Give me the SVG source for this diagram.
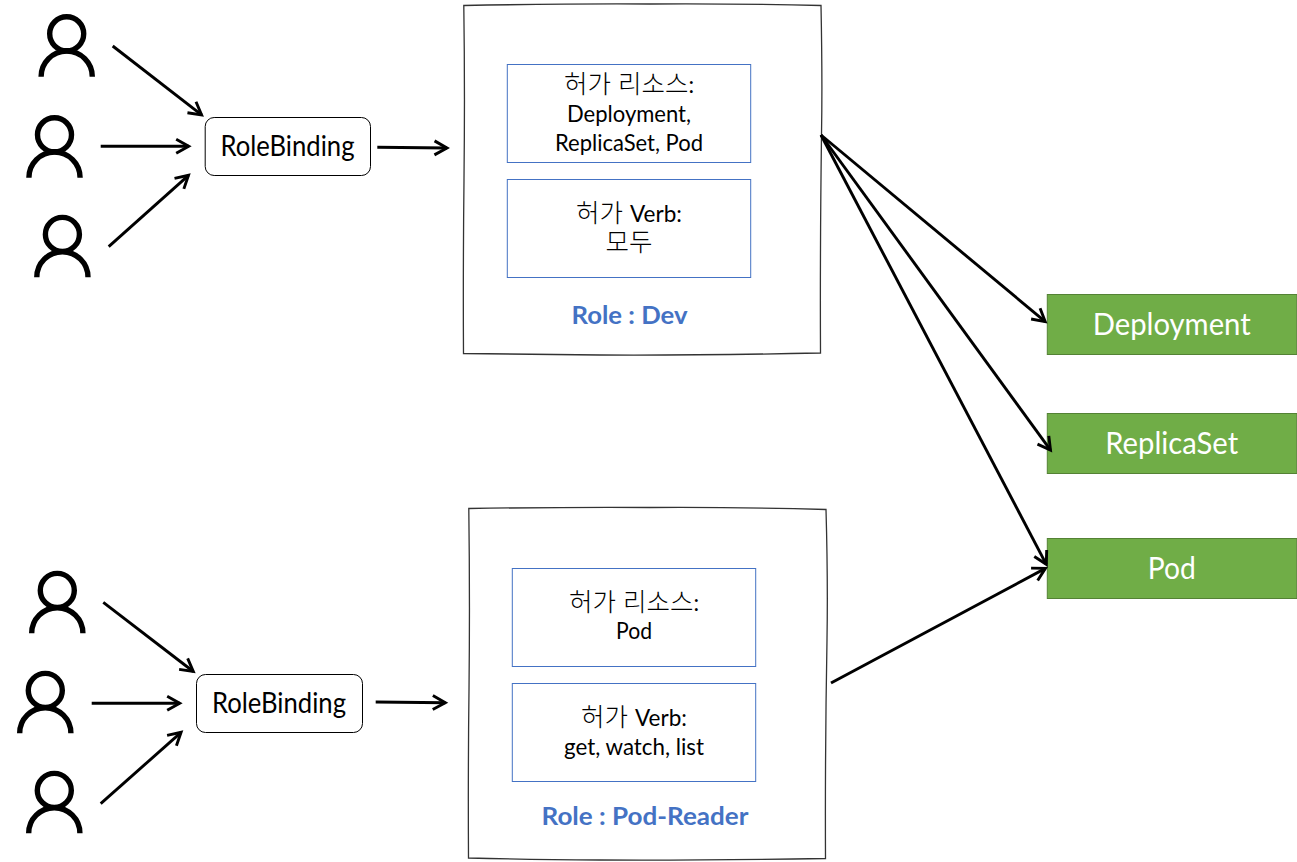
<svg xmlns="http://www.w3.org/2000/svg" width="1297" height="862" viewBox="0 0 1297 862">
<style>
text{font-family:Lato,"Noto Sans CJK KR",sans-serif;text-anchor:middle;fill:#000}
.k{font-size:25.5px;font-family:"Liberation Sans","Noto Sans CJK KR",sans-serif;font-weight:300}
.s{font-family:Lato,sans-serif;font-size:22.5px;font-weight:400}
.l{font-size:22.5px}
.rb{font-size:28px}
.role{font-size:25px;font-weight:700;fill:#4472c4}
.res{font-size:30px;fill:#fff}
.sk{fill:#fff;stroke:#333;stroke-width:1.3}
.in{fill:#fff;stroke:#4472c4;stroke-width:1}
.bind{fill:#fff;stroke:#000;stroke-width:1}
.g{fill:#70ad47;stroke:#548235;stroke-width:1}
.c line{stroke:#000;stroke-width:2.9;marker-end:url(#a)}
</style>
<defs>
<marker id="a" markerUnits="userSpaceOnUse" markerWidth="30" markerHeight="30" refX="24" refY="15" orient="auto" overflow="visible"><path d="M11.5 8 L24 15 L11.5 22" fill="none" stroke="#000" stroke-width="2.9"/></marker>
<g id="p" fill="none" stroke="#000" stroke-width="5.4"><circle cx="0" cy="0.8" r="17"/><path d="M-25.6 43.7 A25.6 25.6 0 0 1 25.6 43.7"/></g>
</defs>
<g id="users-top"><use href="#p" x="66.7" y="33"/><use href="#p" x="54.5" y="134"/><use href="#p" x="62.4" y="233.6"/></g>
<g id="users-bottom"><use href="#p" x="57.3" y="589.6"/><use href="#p" x="45.3" y="689.6"/><use href="#p" x="54.3" y="789.6"/></g>
<g id="binding-top"><rect class="bind" x="205.2" y="117.5" width="165.3" height="58" rx="9"/><text class="rb" x="287.5" y="156" textLength="134" lengthAdjust="spacingAndGlyphs">RoleBinding</text></g>
<g id="binding-bottom"><rect class="bind" x="196.5" y="674.5" width="166" height="58" rx="9"/><text class="rb" x="279" y="712.5" textLength="134" lengthAdjust="spacingAndGlyphs">RoleBinding</text></g>
<g id="role-dev">
<path class="sk" d="M463.8 5.5 Q570 3.5 650 4 Q740 3.5 821 5.5 Q822.5 80 821.5 135 Q820 250 820.5 353 Q700 355.5 600 355 Q530 354.5 463.5 353.5 Q463 270 464 180 Q465 90 463.8 5.5Z"/>
<rect class="in" x="507.3" y="64.5" width="243.4" height="98"/>
<rect class="in" x="507.3" y="179.5" width="243.4" height="98"/>
<text class="k" x="629" y="92.5">허가 리소스<tspan class="s">:</tspan></text>
<text class="l" x="629" y="121.5" textLength="124" lengthAdjust="spacingAndGlyphs">Deployment,</text>
<text class="l" x="629" y="151" textLength="148" lengthAdjust="spacingAndGlyphs">ReplicaSet, Pod</text>
<text class="k" x="629" y="222">허가 <tspan class="s">Verb:</tspan></text>
<text class="k" x="629" y="250.5">모두</text>
<text class="role" x="629.5" y="323.5" textLength="116" lengthAdjust="spacingAndGlyphs">Role : Dev</text>
</g>
<g id="role-pod-reader">
<path class="sk" d="M468.8 508.5 Q570 507 650 507.5 Q740 507 826 509.5 Q828 580 827 640 Q825 750 825.5 858.5 Q700 860.5 600 860 Q530 859.5 468.5 858 Q468 770 469 690 Q470 600 468.8 508.5Z"/>
<rect class="in" x="512.3" y="568.5" width="243.4" height="98"/>
<rect class="in" x="512.3" y="683.5" width="243.4" height="98"/>
<text class="k" x="634" y="610.5">허가 리소스<tspan class="s">:</tspan></text>
<text class="l" x="634" y="639" textLength="36" lengthAdjust="spacingAndGlyphs">Pod</text>
<text class="k" x="634" y="726">허가 <tspan class="s">Verb:</tspan></text>
<text class="l" x="634" y="755" textLength="140" lengthAdjust="spacingAndGlyphs">get, watch, list</text>
<text class="role" x="645" y="825" textLength="207" lengthAdjust="spacingAndGlyphs">Role : Pod-Reader</text>
</g>
<g id="res-deployment"><rect class="g" x="1047.3" y="294.5" width="249.5" height="60"/><text class="res" x="1171.7" y="335" textLength="158" lengthAdjust="spacingAndGlyphs">Deployment</text></g>
<g id="res-replicaset"><rect class="g" x="1047.3" y="413.5" width="249.5" height="60"/><text class="res" x="1171.7" y="454" textLength="133" lengthAdjust="spacingAndGlyphs">ReplicaSet</text></g>
<g id="res-pod"><rect class="g" x="1047.3" y="538.5" width="249.5" height="60"/><text class="res" x="1171.7" y="579" textLength="48" lengthAdjust="spacingAndGlyphs">Pod</text></g>
<g id="connectors" class="c">
<line x1="112.7" y1="46" x2="201.6" y2="114.9"/>
<line x1="100.7" y1="146.3" x2="188.7" y2="146.3"/>
<line x1="108.7" y1="246.7" x2="188.5" y2="175.3"/>
<line x1="377.3" y1="147.3" x2="447" y2="148"/>
<line x1="103.3" y1="602.3" x2="193.3" y2="671.5"/>
<line x1="91.7" y1="703.3" x2="179.7" y2="703.3"/>
<line x1="100.7" y1="803.7" x2="181.1" y2="732.3"/>
<line x1="375.7" y1="702" x2="445.3" y2="702.7"/>
<line x1="821" y1="135" x2="1045.2" y2="321.6"/>
<line x1="821" y1="135" x2="1050.5" y2="450.1"/>
<line x1="821" y1="135" x2="1046.3" y2="564.3"/>
<line x1="831" y1="683" x2="1045.4" y2="568.4"/>
</g>
</svg>
